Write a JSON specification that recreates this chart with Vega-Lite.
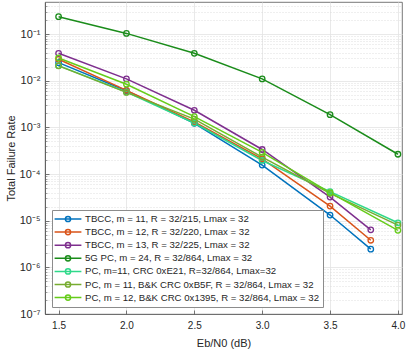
{
  "$schema": "https://vega.github.io/schema/vega-lite/v6.json",
  "width": 357,
  "height": 312,
  "autosize": "none",
  "padding": {"left": 45, "top": 2, "right": 12, "bottom": 43},
  "background": "white",
  "config": {
    "font": "Liberation Sans",
    "view": {"stroke": "#555555", "strokeWidth": 0.8},
    "axis": {"labelColor": "#262626", "titleColor": "#262626", "domainColor": "#555555", "tickColor": "#555555", "labelFont": "Liberation Sans", "titleFont": "Liberation Sans", "titleFontWeight": "normal"},
    "legend": {"labelFont": "Liberation Sans"}
  },
  "data": {"values": [
    {"snr": 1.5, "rate": 0.0243, "series": "TBCC, m = 11, R = 32/215, Lmax = 32"},
    {"snr": 2.0, "rate": 0.0061, "series": "TBCC, m = 11, R = 32/215, Lmax = 32"},
    {"snr": 2.5, "rate": 0.00122, "series": "TBCC, m = 11, R = 32/215, Lmax = 32"},
    {"snr": 3.0, "rate": 0.000155, "series": "TBCC, m = 11, R = 32/215, Lmax = 32"},
    {"snr": 3.5, "rate": 0.0000132, "series": "TBCC, m = 11, R = 32/215, Lmax = 32"},
    {"snr": 3.8, "rate": 0.00000245, "series": "TBCC, m = 11, R = 32/215, Lmax = 32"},
    {"snr": 1.5, "rate": 0.0287, "series": "TBCC, m = 12, R = 32/220, Lmax = 32"},
    {"snr": 2.0, "rate": 0.0062, "series": "TBCC, m = 12, R = 32/220, Lmax = 32"},
    {"snr": 2.5, "rate": 0.00130, "series": "TBCC, m = 12, R = 32/220, Lmax = 32"},
    {"snr": 3.0, "rate": 0.00021, "series": "TBCC, m = 12, R = 32/220, Lmax = 32"},
    {"snr": 3.5, "rate": 0.0000205, "series": "TBCC, m = 12, R = 32/220, Lmax = 32"},
    {"snr": 3.8, "rate": 0.0000038, "series": "TBCC, m = 12, R = 32/220, Lmax = 32"},
    {"snr": 1.5, "rate": 0.0386, "series": "TBCC, m = 13, R = 32/225, Lmax = 32"},
    {"snr": 2.0, "rate": 0.0109, "series": "TBCC, m = 13, R = 32/225, Lmax = 32"},
    {"snr": 2.5, "rate": 0.00232, "series": "TBCC, m = 13, R = 32/225, Lmax = 32"},
    {"snr": 3.0, "rate": 0.000335, "series": "TBCC, m = 13, R = 32/225, Lmax = 32"},
    {"snr": 3.5, "rate": 0.000032, "series": "TBCC, m = 13, R = 32/225, Lmax = 32"},
    {"snr": 3.8, "rate": 0.00000635, "series": "TBCC, m = 13, R = 32/225, Lmax = 32"},
    {"snr": 1.5, "rate": 0.235, "series": "5G PC, m = 24, R = 32/864, Lmax = 32"},
    {"snr": 2.0, "rate": 0.103, "series": "5G PC, m = 24, R = 32/864, Lmax = 32"},
    {"snr": 2.5, "rate": 0.0386, "series": "5G PC, m = 24, R = 32/864, Lmax = 32"},
    {"snr": 3.0, "rate": 0.0109, "series": "5G PC, m = 24, R = 32/864, Lmax = 32"},
    {"snr": 3.5, "rate": 0.00187, "series": "5G PC, m = 24, R = 32/864, Lmax = 32"},
    {"snr": 4.0, "rate": 0.000265, "series": "5G PC, m = 24, R = 32/864, Lmax = 32"},
    {"snr": 1.5, "rate": 0.0210, "series": "PC, m=11, CRC 0xE21, R=32/864, Lmax=32"},
    {"snr": 2.0, "rate": 0.0057, "series": "PC, m=11, CRC 0xE21, R=32/864, Lmax=32"},
    {"snr": 2.5, "rate": 0.00124, "series": "PC, m=11, CRC 0xE21, R=32/864, Lmax=32"},
    {"snr": 3.0, "rate": 0.000195, "series": "PC, m=11, CRC 0xE21, R=32/864, Lmax=32"},
    {"snr": 3.5, "rate": 0.0000420, "series": "PC, m=11, CRC 0xE21, R=32/864, Lmax=32"},
    {"snr": 4.0, "rate": 0.0000090, "series": "PC, m=11, CRC 0xE21, R=32/864, Lmax=32"},
    {"snr": 1.5, "rate": 0.0208, "series": "PC, m = 11, B&K CRC 0xB5F, R = 32/864, Lmax = 32"},
    {"snr": 2.0, "rate": 0.0056, "series": "PC, m = 11, B&K CRC 0xB5F, R = 32/864, Lmax = 32"},
    {"snr": 2.5, "rate": 0.00150, "series": "PC, m = 11, B&K CRC 0xB5F, R = 32/864, Lmax = 32"},
    {"snr": 3.0, "rate": 0.000230, "series": "PC, m = 11, B&K CRC 0xB5F, R = 32/864, Lmax = 32"},
    {"snr": 3.5, "rate": 0.0000385, "series": "PC, m = 11, B&K CRC 0xB5F, R = 32/864, Lmax = 32"},
    {"snr": 4.0, "rate": 0.0000080, "series": "PC, m = 11, B&K CRC 0xB5F, R = 32/864, Lmax = 32"},
    {"snr": 1.5, "rate": 0.0306, "series": "PC, m = 12, B&K CRC 0x1395, R = 32/864, Lmax = 32"},
    {"snr": 2.0, "rate": 0.0084, "series": "PC, m = 12, B&K CRC 0x1395, R = 32/864, Lmax = 32"},
    {"snr": 2.5, "rate": 0.00170, "series": "PC, m = 12, B&K CRC 0x1395, R = 32/864, Lmax = 32"},
    {"snr": 3.0, "rate": 0.000290, "series": "PC, m = 12, B&K CRC 0x1395, R = 32/864, Lmax = 32"},
    {"snr": 3.5, "rate": 0.0000400, "series": "PC, m = 12, B&K CRC 0x1395, R = 32/864, Lmax = 32"},
    {"snr": 4.0, "rate": 0.0000062, "series": "PC, m = 12, B&K CRC 0x1395, R = 32/864, Lmax = 32"}
  ]},
  "encoding": {
    "x": {
      "field": "snr", "type": "quantitative",
      "scale": {"domain": [1.4, 4.03], "nice": false, "zero": false},
      "axis": {
        "values": [1.5, 2, 2.5, 3, 3.5, 4],
        "title": "Eb/N0 (dB)",
        "titleFontSize": 11, "titlePadding": 7,
        "labelFontSize": 10, "labelPadding": 10, "tickSize": -4, "tickWidth": 0.8,
        "grid": true, "gridColor": "#e3e3e3", "gridWidth": 0.8,
        "domainWidth": 0.8, "labelFlush": false
      }
    },
    "color": {
      "field": "series", "type": "nominal",
      "scale": {
        "domain": [
          "TBCC, m = 11, R = 32/215, Lmax = 32",
          "TBCC, m = 12, R = 32/220, Lmax = 32",
          "TBCC, m = 13, R = 32/225, Lmax = 32",
          "5G PC, m = 24, R = 32/864, Lmax = 32",
          "PC, m=11, CRC 0xE21, R=32/864, Lmax=32",
          "PC, m = 11, B&K CRC 0xB5F, R = 32/864, Lmax = 32",
          "PC, m = 12, B&K CRC 0x1395, R = 32/864, Lmax = 32"
        ],
        "range": ["#0072BD", "#D95319", "#7E2F8E", "#1A8C1A", "#2FD98A", "#77AC30", "#66CC1A"]
      },
      "legend": {
        "title": null, "orient": "bottom-left", "offset": 7,
        "padding": 3, "rowPadding": 1.1,
        "labelFontSize": 9.65, "labelColor": "#262626", "labelLimit": 400,
        "labelOffset": 11, "symbolOffset": 7,
        "symbolType": "M -2.68 0 L 2.68 0 M -0.52 0 A 0.52 0.52 0 1 0 0.52 0 A 0.52 0.52 0 1 0 -0.52 0",
        "symbolSize": 100, "symbolStrokeWidth": 1.5, "symbolFillColor": "transparent",
        "strokeColor": "#8c8c8c", "fillColor": "white"
      }
    }
  },
  "layer": [
    {
      "mark": {"type": "line", "strokeWidth": 1.5},
      "encoding": {
        "y": {
          "field": "rate", "type": "quantitative",
          "scale": {"type": "log", "domain": [1e-7, 0.485], "nice": false},
          "axis": {
            "orient": "left",
            "values": [2e-7,3e-7,4e-7,5e-7,6e-7,7e-7,8e-7,9e-7,2e-6,3e-6,4e-6,5e-6,6e-6,7e-6,8e-6,9e-6,2e-5,3e-5,4e-5,5e-5,6e-5,7e-5,8e-5,9e-5,2e-4,3e-4,4e-4,5e-4,6e-4,7e-4,8e-4,9e-4,0.002,0.003,0.004,0.005,0.006,0.007,0.008,0.009,0.02,0.03,0.04,0.05,0.06,0.07,0.08,0.09,0.2,0.3,0.4],
            "labels": false, "domain": false, "title": null,
            "tickSize": -2, "tickWidth": 0.6, "tickColor": "#666666",
            "grid": true, "gridColor": "#d6d6d6", "gridDash": [1, 2], "gridWidth": 0.8
          }
        }
      }
    },
    {
      "mark": {"type": "point", "shape": "circle", "filled": false, "size": 30, "strokeWidth": 1.3, "opacity": 1},
      "encoding": {
        "y": {
          "field": "rate", "type": "quantitative",
          "scale": {"type": "log", "domain": [1e-7, 0.485], "nice": false},
          "axis": {
            "orient": "left",
            "values": [1e-7, 1e-6, 1e-5, 1e-4, 1e-3, 1e-2, 1e-1],
            "labelExpr": "'10' + ['⁰','⁻¹','⁻²','⁻³','⁻⁴','⁻⁵','⁻⁶','⁻⁷'][-round(log(datum.value)/LN10)]",
            "labelFontSize": 11, "labelPadding": 9, "tickSize": -4, "tickWidth": 0.8,
            "title": "Total Failure Rate", "titleFontSize": 11, "titlePadding": 3,
            "grid": true, "gridColor": "#e3e3e3", "gridWidth": 0.8,
            "domainWidth": 0.8, "labelFlush": false
          }
        }
      }
    }
  ],
  "resolve": {"axis": {"y": "independent"}}
}
